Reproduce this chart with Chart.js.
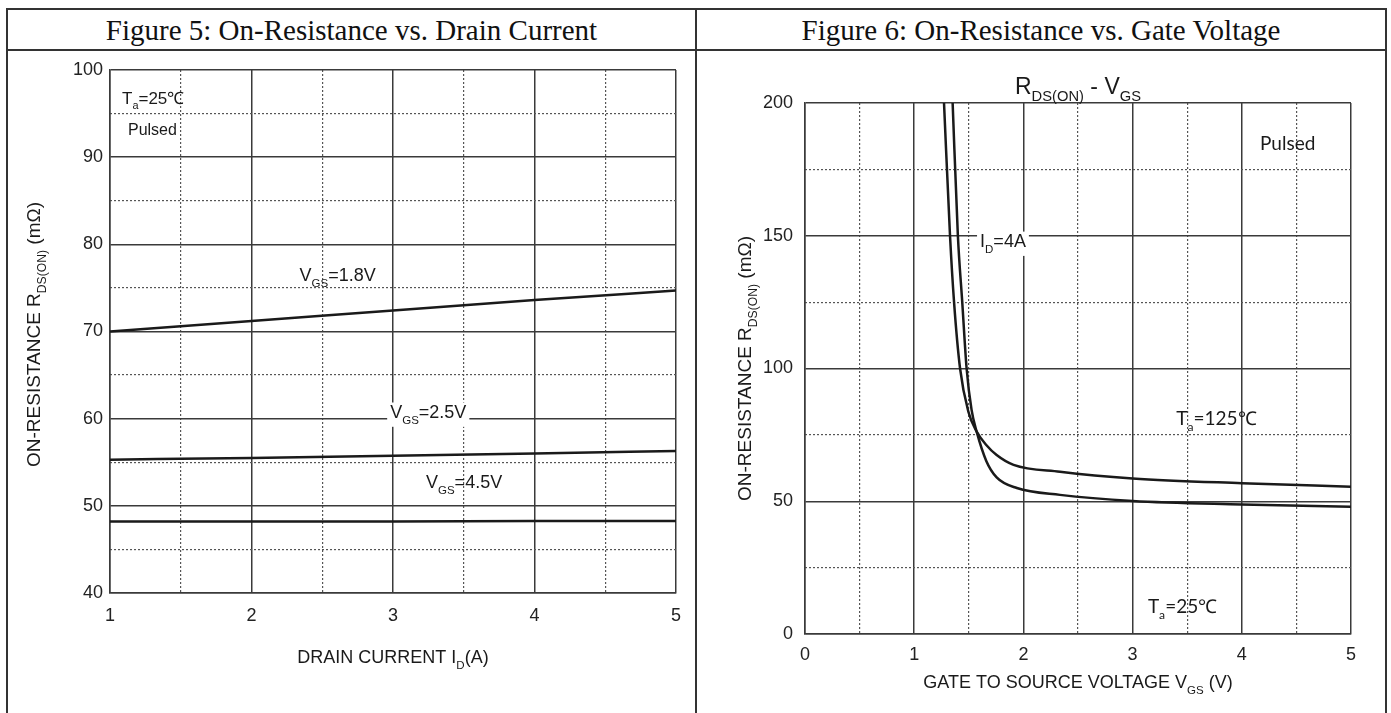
<!DOCTYPE html>
<html>
<head>
<meta charset="utf-8">
<script src="https://cdn.jsdelivr.net/npm/chart.js@4.4.0/dist/chart.umd.min.js"></script>
<style>
  body { margin: 0; background: #fff; }
  #page { position: relative; width: 1391px; height: 713px; overflow: hidden; background: #fff; }
  .line { position: absolute; background: #333; }
  .head { position: absolute; top: 10px; height: 39px; line-height: 40px; text-align: center;
          font-family: "Liberation Serif", "Times New Roman", serif; font-size: 29px; color: #111; }
  canvas { position: absolute; }
</style>
</head>
<body>
<div id="page">
  <div class="line" style="left:6px;top:8px;width:1381px;height:2px"></div>
  <div class="line" style="left:6px;top:49px;width:1381px;height:2px"></div>
  <div class="line" style="left:6px;top:8px;width:2px;height:705px"></div>
  <div class="line" style="left:695px;top:8px;width:2px;height:705px"></div>
  <div class="line" style="left:1385px;top:8px;width:2px;height:705px"></div>
  <div class="head" style="left:8px;width:687px">Figure 5: On-Resistance vs. Drain Current</div>
  <div class="head" style="left:697px;width:688px">Figure 6: On-Resistance vs. Gate Voltage</div>
  <canvas id="c1" width="687" height="661" style="left:8px;top:52px"></canvas>
  <canvas id="c2" width="688" height="661" style="left:697px;top:52px"></canvas>
</div>
<script>
// Figure 5: R_DS(on) vs drain current, one line per gate voltage
const drainCurrent = [1, 2, 3, 4, 5];
const rVgs18 = [70, 71.2, 72.4, 73.6, 74.7];
const rVgs25 = [55.3, 55.5, 55.75, 56.0, 56.3];
const rVgs45 = [48.2, 48.2, 48.2, 48.25, 48.25];
const fig5XTicks = [1, 2, 3, 4, 5];
const fig5YTicks = [40, 50, 60, 70, 80, 90, 100];

// Figure 6: R_DS(on) vs gate voltage at I_D = 4A
const vgsT125 = [1.273, 1.328, 1.365, 1.42, 1.496, 1.572, 1.66, 1.755, 1.91, 2.335, 3, 4, 5];
const rT125 = [200, 150, 125, 100, 83.7, 76.2, 71.2, 67.4, 63.7, 61.1, 58.6, 56.8, 55.5];
const vgsT25 = [1.352, 1.40, 1.44, 1.48, 1.525, 1.572, 1.66, 1.755, 1.94, 2.335, 3, 4, 5];
const rT25 = [200, 150, 125, 100, 84.5, 76.2, 65.2, 59.0, 55.0, 52.4, 50.1, 48.8, 47.9];
const fig6XTicks = [0, 1, 2, 3, 4, 5];
const fig6YTicks = [0, 50, 100, 150, 200];

const SANS = '"Liberation Sans", Arial, sans-serif';
const CAL = 'Lato, "Open Sans", sans-serif';
const INK = '#1a1a1a';

function toPoints(xs, ys) {
  return xs.map((x, i) => ({ x: x, y: ys[i] }));
}

// draws text where odd parts are subscripts
function richText(ctx, parts, x, y, size, family, align, bg) {
  const subSize = size * 0.64;
  const widths = parts.map((p, i) => {
    ctx.font = (i % 2 ? subSize : size) + 'px ' + family;
    return ctx.measureText(p).width;
  });
  const total = widths.reduce((a, b) => a + b, 0);
  let cx = align === 'center' ? x - total / 2 : x;
  if (bg) {
    ctx.fillStyle = '#fff';
    ctx.fillRect(cx - 3, y - size * 0.85, total + 6, size * 1.35);
  }
  ctx.fillStyle = INK;
  ctx.textBaseline = 'alphabetic';
  ctx.textAlign = 'left';
  parts.forEach((p, i) => {
    ctx.font = (i % 2 ? subSize : size) + 'px ' + family;
    ctx.fillText(p, cx, i % 2 ? y + size * 0.32 : y);
    cx += widths[i];
  });
}

function textPlugin(notes, titles) {
  return {
    id: 'texts',
    afterDatasetsDraw(chart) {
      const ctx = chart.ctx;
      const sx = chart.scales.x, sy = chart.scales.y;
      const area = chart.chartArea;
      ctx.save();
      notes.forEach(n => {
        richText(ctx, n.parts, sx.getPixelForValue(n.x), sy.getPixelForValue(n.y),
                 n.size, n.family || SANS, 'left', n.bg);
      });
      const midX = (area.left + area.right) / 2;
      const midY = (area.top + area.bottom) / 2;
      if (titles.x) {
        richText(ctx, titles.x.parts, midX, area.bottom + titles.x.dy, titles.x.size, SANS, 'center');
      }
      if (titles.top) {
        richText(ctx, titles.top.parts, midX, area.top + titles.top.dy, titles.top.size, SANS, 'center');
      }
      if (titles.y) {
        ctx.save();
        ctx.translate(area.left + titles.y.dx, midY + (titles.y.dy || 0));
        ctx.rotate(-Math.PI / 2);
        richText(ctx, titles.y.parts, 0, 0, titles.y.size, SANS, 'center');
        ctx.restore();
      }
      ctx.restore();
    }
  };
}

function lineSet(points) {
  return {
    data: points,
    borderColor: INK,
    borderWidth: 2.5,
    pointRadius: 0,
    fill: false,
    cubicInterpolationMode: 'monotone'
  };
}

function makeScales(xMin, xMax, xStep, yMin, yMax, yStep, xTicks, yTicks, geo) {
  const tickFont = { family: SANS, size: 18 };
  const clear = 'rgba(0,0,0,0)';
  const minorColor = (step) => c => (c.tick && Math.abs(c.tick.value / step - Math.round(c.tick.value / step)) < 1e-6) ? clear : '#555';
  return {
    x: {
      type: 'linear', position: 'bottom', min: xMin, max: xMax,
      afterBuildTicks: s => { s.ticks = xTicks.map(v => ({ value: v })); },
      ticks: { font: tickFont, color: '#222', padding: geo.xPad, maxRotation: 0, autoSkip: false },
      grid: { color: '#3a3a3a', lineWidth: 1.5, drawTicks: false },
      border: { color: '#3a3a3a', width: 1.5 },
      afterFit: s => { s.height = geo.xH; }
    },
    xm: {
      type: 'linear', position: 'bottom', min: xMin, max: xMax,
      ticks: { stepSize: xStep / 2, display: false },
      grid: { color: minorColor(xStep), lineWidth: 1.2, drawTicks: false },
      border: { display: false, dash: [2, 2] },
      afterFit: s => { s.height = 0; }
    },
    y: {
      type: 'linear', position: 'left', min: yMin, max: yMax,
      afterBuildTicks: s => { s.ticks = yTicks.map(v => ({ value: v })); },
      ticks: { font: tickFont, color: '#222', padding: geo.yPad },
      grid: { color: '#3a3a3a', lineWidth: 1.5, drawTicks: false },
      border: { color: '#3a3a3a', width: 1.5 },
      afterFit: s => { s.width = geo.yW; }
    },
    ym: {
      type: 'linear', position: 'left', min: yMin, max: yMax,
      ticks: { stepSize: yStep / 2, display: false },
      grid: { color: minorColor(yStep), lineWidth: 1.2, drawTicks: false },
      border: { display: false, dash: [2, 2] },
      afterFit: s => { s.width = 0; }
    }
  };
}

const baseOptions = {
  responsive: false,
  animation: false,
  devicePixelRatio: 1,
  plugins: { legend: { display: false }, tooltip: { enabled: false } }
};

const yTitleParts = ['ON-RESISTANCE R', 'DS(ON)', ' (mΩ)'];

// Figure 5
new Chart(document.getElementById('c1').getContext('2d'), {
  type: 'scatter',
  data: {
    datasets: [
      lineSet(toPoints(drainCurrent, rVgs18)),
      lineSet(toPoints(drainCurrent, rVgs25)),
      lineSet(toPoints(drainCurrent, rVgs45))
    ]
  },
  options: Object.assign({}, baseOptions, {
    showLine: true,
    layout: { padding: { top: 18, right: 19, left: 0, bottom: 0 } },
    scales: makeScales(1, 5, 1, 40, 100, 10, fig5XTicks, fig5YTicks, { xH: 120, yW: 102, xPad: 12, yPad: 7 })
  }),
  plugins: [textPlugin([
    { x: 1.085, y: 96.1, parts: ['T', 'a', '=25℃'], size: 17 },
    { x: 1.127, y: 92.6, parts: ['Pulsed'], size: 16 },
    { x: 2.34, y: 75.8, parts: ['V', 'GS', '=1.8V'], size: 18 },
    { x: 2.98, y: 60.1, parts: ['V', 'GS', '=2.5V'], size: 18, bg: true },
    { x: 3.233, y: 52.0, parts: ['V', 'GS', '=4.5V'], size: 18 }
  ], {
    x: { parts: ['DRAIN CURRENT I', 'D', '(A)'], size: 18, dy: 70 },
    y: { parts: yTitleParts, size: 19, dx: -70, dy: 3 }
  })]
});

// Figure 6
new Chart(document.getElementById('c2').getContext('2d'), {
  type: 'scatter',
  data: {
    datasets: [
      lineSet(toPoints(vgsT125, rT125)),
      lineSet(toPoints(vgsT25, rT25))
    ]
  },
  options: Object.assign({}, baseOptions, {
    showLine: true,
    layout: { padding: { top: 51, right: 34, left: 0, bottom: 0 } },
    scales: makeScales(0, 5, 1, 0, 200, 50, fig6XTicks, fig6YTicks, { xH: 79, yW: 108, xPad: 10, yPad: 12 })
  }),
  plugins: [textPlugin([
    { x: 1.603, y: 145.8, parts: ['I', 'D', '=4A'], size: 18, bg: true },
    { x: 4.167, y: 182.3, parts: ['Pulsed'], size: 19, family: CAL },
    { x: 3.40, y: 78.7, parts: ['T', 'a', '=125℃'], size: 19, family: CAL },
    { x: 3.14, y: 7.9, parts: ['T', 'a', '=25℃'], size: 19, family: CAL }
  ], {
    top: { parts: ['R', 'DS(ON)', ' - V', 'GS'], size: 23, dy: -9 },
    x: { parts: ['GATE TO SOURCE VOLTAGE V', 'GS', ' (V)'], size: 18, dy: 54 },
    y: { parts: yTitleParts, size: 19, dx: -54 }
  })]
});
</script>
</body>
</html>
